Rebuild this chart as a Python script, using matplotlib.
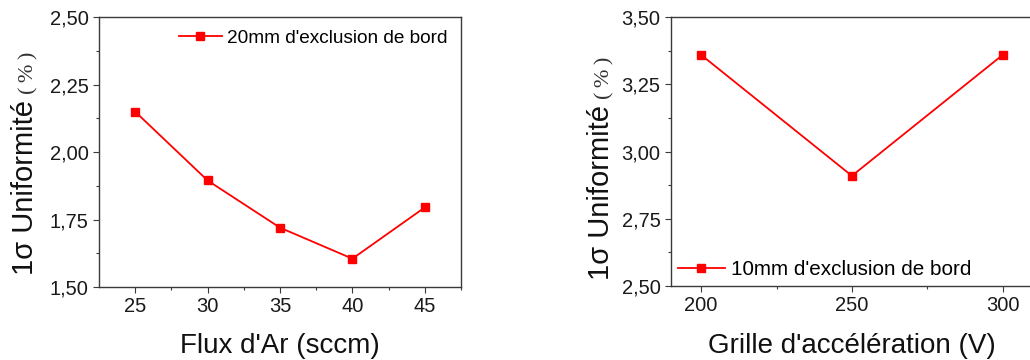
import matplotlib
matplotlib.use("Agg")
import matplotlib.pyplot as plt
from matplotlib.ticker import FixedLocator, FuncFormatter

# ---- data ----
flux_x = [25, 30, 35, 40, 45]
flux_y = [2.15, 1.895, 1.72, 1.605, 1.795]
flux_label = "20mm d'exclusion de bord"

grille_x = [200, 250, 300]
grille_y = [3.36, 2.91, 3.36]
grille_label = "10mm d'exclusion de bord"

left_xticks = [25, 30, 35, 40, 45]
left_yticks = [1.50, 1.75, 2.00, 2.25, 2.50]
right_xticks = [200, 250, 300]
right_yticks = [2.50, 2.75, 3.00, 3.25, 3.50]

xlabel_left = "Flux d'Ar (sccm)"
xlabel_right = "Grille d'accélération (V)"
ylabel_main = "1σ Uniformité"
ylabel_unit = "(\u2009%\u2009)"

plt.rcParams['font.family'] = ['Liberation Sans', 'DejaVu Sans']

W, H = 1030, 360
fig = plt.figure(figsize=(W / 100, H / 100), dpi=100)

RED = '#ff0000'
SPINE = '#3a3a3a'


def px(x0, y0, x1, y1):
    return [x0 / W, 1 - y1 / H, (x1 - x0) / W, (y1 - y0) / H]


def comma(v, pos):
    return f"{v:.2f}".replace('.', ',')


def style(ax, xticks, xminor, yticks, yminor):
    for s in ax.spines.values():
        s.set_color(SPINE)
        s.set_linewidth(1.0)
    ax.xaxis.set_major_locator(FixedLocator(xticks))
    ax.xaxis.set_minor_locator(FixedLocator(xminor))
    ax.yaxis.set_major_locator(FixedLocator(yticks))
    ax.yaxis.set_minor_locator(FixedLocator(yminor))
    ax.yaxis.set_major_formatter(FuncFormatter(comma))
    ax.tick_params(which='major', direction='out', length=4.2, width=0.8,
                   color=SPINE, labelsize=14.5, labelcolor='#1a1a1a', pad=3.3)
    ax.tick_params(which='minor', direction='out', length=2.3, width=0.8,
                   color=SPINE)
    ax.tick_params(top=False, right=False, which='both')


# left axes
axL = fig.add_axes(px(99, 17.3, 461, 287))
axL.plot(flux_x, flux_y, color=RED, lw=1.3, marker='s', ms=5.5,
         mec=RED, mfc=RED, label=flux_label)
axL.set_xlim(22.5, 47.5)
axL.set_ylim(1.50, 2.50)
style(axL, left_xticks, [27.5, 32.5, 37.5, 42.5, 47.5],
      left_yticks, [1.625, 1.875, 2.125, 2.375])
axL.legend(loc='upper right', frameon=False, fontsize=13.7, numpoints=1,
           handlelength=2.25, handletextpad=0.27, borderaxespad=0.0,
           borderpad=0.0, bbox_to_anchor=(0.962, 0.955))

# right axes (extends past right edge)
axR = fig.add_axes(px(671, 17.3, 1032.8, 286))
axR.plot(grille_x, grille_y, color=RED, lw=1.3, marker='s', ms=5.5,
         mec=RED, mfc=RED, label=grille_label)
axR.set_xlim(190, 310)
axR.set_ylim(2.50, 3.50)
style(axR, right_xticks, [225, 275],
      right_yticks, [2.625, 2.875, 3.125, 3.375])
axR.legend(loc='lower left', frameon=False, fontsize=14.9, numpoints=1,
           handlelength=2.3, handletextpad=0.27, borderaxespad=0.0,
           borderpad=0.0, bbox_to_anchor=(0.018, 0.025))

# x labels
fig.text(280 / W, 1 - 353 / H, xlabel_left, ha='center', va='baseline',
         fontsize=20, color='#111111')
fig.text(852 / W, 1 - 353 / H, xlabel_right, ha='center', va='baseline',
         fontsize=20, color='#111111')

# y labels (main part sans, unit part serif)
fig.canvas.draw()
renderer = fig.canvas.get_renderer()


def ylabel(xb, ybot):
    t1 = fig.text(xb / W, 1 - ybot / H, ylabel_main, rotation=90,
                  rotation_mode='anchor', ha='left', va='baseline',
                  fontsize=21, color='#111111')
    bb = t1.get_window_extent(renderer)
    fig.text(xb / W, (bb.y1 + 6) / H, ylabel_unit, rotation=90,
             rotation_mode='anchor', ha='left', va='baseline',
             fontsize=16, color='#333333',
             family=['Liberation Serif', 'DejaVu Serif'])


ylabel(33, 275)
ylabel(609, 280)

fig.savefig('out.png', dpi=100)
